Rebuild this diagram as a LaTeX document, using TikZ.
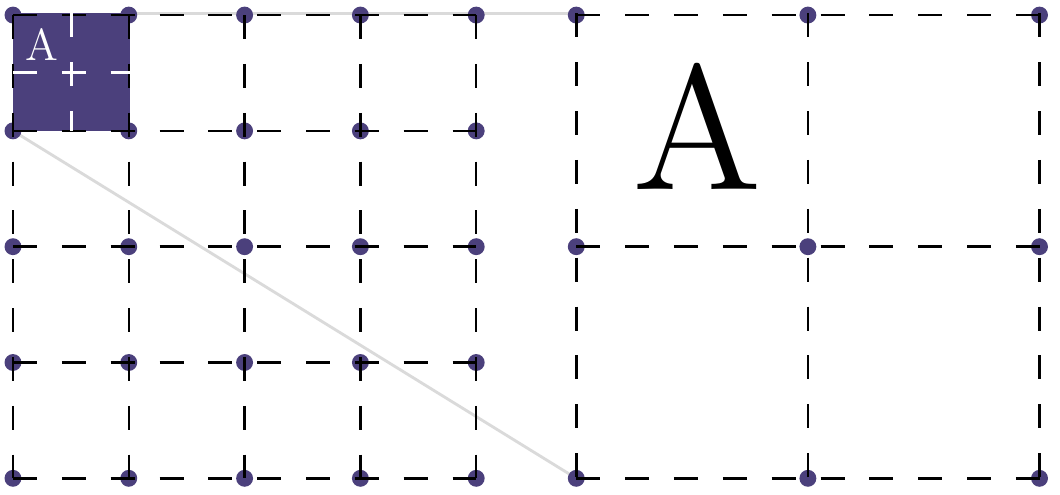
\documentclass[tikz,border=0pt]{standalone}
\usetikzlibrary{
    positioning,
    calc
}
\definecolor{gridpurple}{HTML}{4B407C}
\definecolor{zoomgray}{HTML}{DADADA}

\begin{document}
\begin{tikzpicture}[
    gridline/.style={
        black,
        line width=0.6pt,
        dash pattern=on 5.9pt off 6.1pt
    },
    crossline/.style={
        white,
        line width=0.7pt,
        dash pattern=on 5.9pt off 6.1pt
    },
    connector/.style={
        zoomgray,
        line width=0.7pt
    },
    gridpoint/.style={
        gridpurple
    }
]

    \useasboundingbox (-0.112,-0.136) rectangle (9.041,4.13);

    % -------------------------------------------------------
    % Zoom connectors
    % -------------------------------------------------------
    \node[
        fill=gridpurple,
        minimum size=1cm,
        inner sep=0pt,
        anchor=south west
    ] (zoomcell) at (0,3) {};

    \node[
        minimum size=4cm,
        inner sep=0pt,
        anchor=south west
    ] (zoomview) at (4.864,0) {};

    \draw[connector]
        (zoomcell.north east) -- (zoomview.north west);

    \draw[connector]
        (zoomcell.south west) -- (zoomview.south west);

    % redraw the cell over the connectors
    \fill[gridpurple]
        (zoomcell.south west) rectangle (zoomcell.north east);

    % -------------------------------------------------------
    % Grid points
    % -------------------------------------------------------
    \foreach \x in {0,...,4}
        \foreach \y in {0,...,4}
            \fill[gridpoint] (\x,\y) circle (0.073);

    \foreach \x in {0,1,2}
        \foreach \y in {0,1,2}
            \fill[gridpoint] ($(zoomview.south west)+(2*\x,2*\y)$) circle (0.073);

    % -------------------------------------------------------
    % Fine grid (left)
    % -------------------------------------------------------
    \foreach \i in {0,...,4} {
        \draw[gridline] (0,\i) -- (4,\i);
        \draw[gridline] (\i,4) -- (\i,0);
    }

    % -------------------------------------------------------
    % Zoomed grid (right)
    % -------------------------------------------------------
    \foreach \i in {0,1,2} {
        \draw[gridline]
            ($(zoomview.south west)+(0,2*\i)$)
            -- ($(zoomview.south east)+(0,2*\i)$);
        \draw[gridline]
            ($(zoomview.north west)+(2*\i,0)$)
            -- ($(zoomview.south west)+(2*\i,0)$);
    }

    % -------------------------------------------------------
    % Cell contents
    % -------------------------------------------------------
    \draw[crossline]
        (zoomcell.west) -- (zoomcell.east);

    \draw[crossline]
        (zoomcell.north) -- (zoomcell.south);

    \node[
        text=white,
        inner sep=0pt,
        font=\fontsize{11pt}{13pt}\selectfont
    ] (smallletter) at (0.25,3.75) {A};

    % same letter, blown up four times
    \node[
        text=black,
        inner sep=0pt,
        scale=3.95,
        font=\fontsize{11pt}{13pt}\selectfont
    ] (bigletter) at (5.91,3.037) {A};

\end{tikzpicture}
\end{document}
